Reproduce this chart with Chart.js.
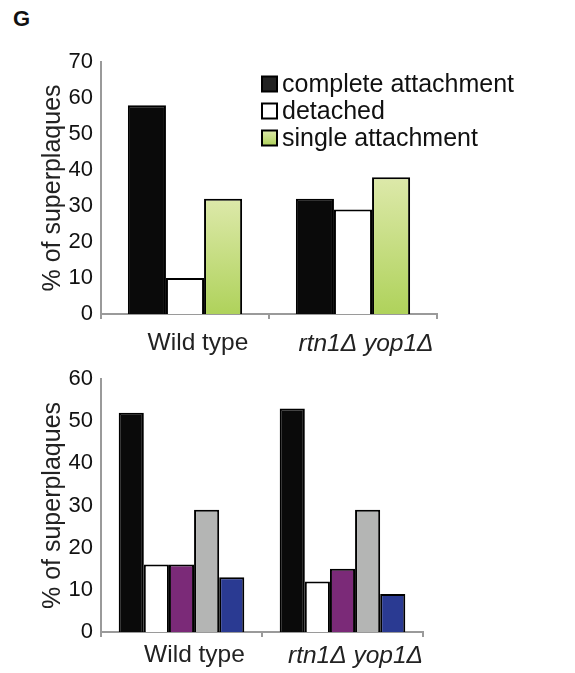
<!DOCTYPE html>
<html>
<head>
<meta charset="utf-8">
<script src="https://cdn.jsdelivr.net/npm/chart.js@4.4.1/dist/chart.umd.min.js"></script>
<style>
  body { margin: 0; background: #fff; }
  #wrap { position: relative; width: 575px; height: 673px; }
  #panel { position: absolute; left: 13px; top: 8px; font: bold 22px/22px 'Liberation Sans', Arial, sans-serif; color: #111; }
  canvas { position: absolute; left: 0; }
  #topChart { top: 0; }
  #bottomChart { top: 350px; }
</style>
</head>
<body>
<div id="wrap">
  <div id="panel">G</div>
  <canvas id="topChart" width="575" height="362"></canvas>
  <canvas id="bottomChart" width="575" height="323"></canvas>
</div>
<script>
var strains = ['Wild type', 'rtn1Δ yop1Δ'];

// top panel: attachment
var completeAttachment = [58, 32];
var detached = [10, 29];
var singleAttachment = [32, 38];
var topTicks = [0, 10, 20, 30, 40, 50, 60, 70];

// bottom panel: shape
var straight = [52, 53];
var curved = [16, 12];
var blob = [16, 15];
var bent = [29, 29];
var extension = [13, 9];
var bottomTicks = [0, 10, 20, 30, 40, 50, 60];

Chart.defaults.font.family = "'Liberation Sans', Arial, sans-serif";
Chart.defaults.color = '#111';

function greenFill(c) {
  var chart = c.chart;
  if (!chart.chartArea || c.type !== 'data') return '#c6df84';
  var y = chart.scales.y;
  var top = y.getPixelForValue(c.raw);
  var base = y.getPixelForValue(0);
  var g = chart.ctx.createLinearGradient(0, top, 0, base);
  g.addColorStop(0, '#dde9aa');
  g.addColorStop(1, '#afd25b');
  return g;
}

// legend drawn inside the plot, like the original figure
var boxLegend = {
  id: 'boxLegend',
  afterDraw: function(chart, args, opts) {
    var ctx = chart.ctx;
    ctx.save();
    ctx.font = opts.fontSize + "px 'Liberation Sans', Arial, sans-serif";
    ctx.textBaseline = 'middle';
    ctx.textAlign = 'left';
    chart.data.datasets.forEach(function(ds, i) {
      var cy = opts.y + i * opts.gap;
      var bx = opts.x, by = cy - opts.box / 2;
      if (ds.legendFill === 'gradient') {
        var g = ctx.createLinearGradient(0, by, 0, by + opts.box);
        g.addColorStop(0, '#dde9aa');
        g.addColorStop(1, '#afd25b');
        ctx.fillStyle = g;
      } else {
        ctx.fillStyle = ds.legendFill;
      }
      ctx.fillRect(bx, by, opts.box, opts.box);
      ctx.lineWidth = 2;
      ctx.strokeStyle = '#000';
      ctx.strokeRect(bx, by, opts.box, opts.box);
      ctx.fillStyle = '#111';
      ctx.fillText(ds.label, opts.textX, cy + 1);
    });
    ctx.restore();
  }
};

function makeOptions(cfg) {
  return {
    responsive: false,
    animation: false,
    events: [],
    layout: { padding: { top: cfg.padTop, right: cfg.padRight, left: 0, bottom: 0 } },
    plugins: {
      legend: { display: false },
      tooltip: { enabled: false },
      boxLegend: cfg.legend
    },
    scales: {
      x: {
        type: 'category',
        offset: true,
        grid: { display: true, drawOnChartArea: false, offset: true, tickLength: 5, color: '#9a9a9a', lineWidth: 2 },
        border: { color: '#9a9a9a', width: 2 },
        ticks: {
          padding: cfg.xPad,
          labelOffset: 13,
          color: '#222',
          font: function(c) { return { size: 24.5, style: c.index === 1 ? 'italic' : 'normal' }; }
        },
        afterFit: function(s) { s.height = cfg.xHeight; }
      },
      y: {
        min: 0,
        max: cfg.ticks[cfg.ticks.length - 1],
        afterBuildTicks: function(s) { s.ticks = cfg.ticks.map(function(v) { return { value: v }; }); },
        grid: { display: false },
        border: { color: '#9a9a9a', width: 2 },
        ticks: { padding: 0, font: { size: 22 }, color: '#111' },
        title: { display: true, text: '% of superplaques', font: { size: 25 }, color: '#222', padding: { top: 38, bottom: 0 } },
        afterFit: function(s) { s.width = 101; }
      }
    }
  };
}

function bar(label, data, fill, legendFill, pct) {
  return {
    label: label, data: data, backgroundColor: fill, legendFill: legendFill || fill,
    borderColor: '#000', borderWidth: 2, barPercentage: 1, categoryPercentage: pct
  };
}

new Chart(document.getElementById('topChart'), {
  type: 'bar',
  data: {
    labels: strains,
    datasets: [
      bar('complete attachment', completeAttachment, '#0a0a0a', '#222', 0.68),
      bar('detached', detached, '#ffffff', null, 0.68),
      bar('single attachment', singleAttachment, greenFill, 'gradient', 0.68)
    ]
  },
  options: makeOptions({
    padTop: 62, padRight: 138, xHeight: 48, xPad: 10, ticks: topTicks,
    legend: { x: 262, y: 84, gap: 27, box: 15, textX: 282, fontSize: 25 }
  }),
  plugins: [boxLegend]
});

new Chart(document.getElementById('bottomChart'), {
  type: 'bar',
  data: {
    labels: strains,
    datasets: [
      bar('straight', straight, '#0a0a0a', '#222', 0.78),
      bar('curved', curved, '#ffffff', null, 0.78),
      bar('blob', blob, '#7b2a78', null, 0.78),
      bar('bent', bent, '#b4b5b4', null, 0.78),
      bar('extension', extension, '#2a3a92', null, 0.78)
    ]
  },
  options: makeOptions({
    padTop: 29, padRight: 152, xHeight: 41, xPad: 4, ticks: bottomTicks,
    legend: { x: 439, y: 457, gap: 27, box: 15, textX: 460, fontSize: 25 }
  }),
  plugins: [boxLegend]
});
</script>
</body>
</html>
